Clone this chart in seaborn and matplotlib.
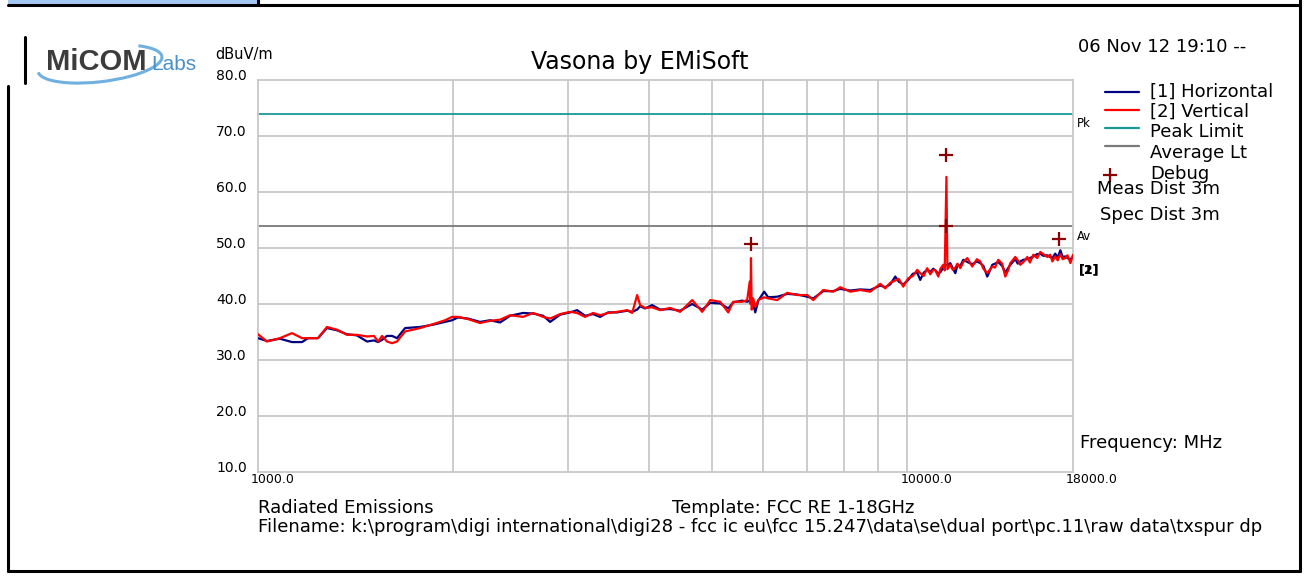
import numpy as np
import pandas as pd
import matplotlib
matplotlib.use("Agg")
import matplotlib.pyplot as plt
import seaborn as sns
from matplotlib.lines import Line2D
from matplotlib.patches import Rectangle, Arc
from matplotlib.transforms import ScaledTranslation

freq = [1000, 1032, 1081, 1128, 1169, 1194, 1237, 1277, 1324, 1371, 1420, 1472, 1509, 1531,
        1553, 1580, 1609, 1637, 1685, 1777, 1860, 1942, 1990, 2033, 2106, 2198, 2278, 2360,
        2445, 2560, 2653, 2749, 2818, 2920, 3025, 3101, 3190, 3282, 3365, 3462, 3574, 3704,
        3770, 3837, 3878, 3947, 4046, 4163, 4313, 4469, 4664, 4833, 4972, 5151, 5300, 5395,
        5569, 5668, 5720, 5735, 5745, 5760, 5790, 5833, 5895, 6021, 6107, 6305, 6533, 6769,
        7015, 7166, 7423, 7691, 7885, 8170, 8464, 8770, 9087, 9250, 9415, 9584, 9700, 9859,
        10035, 10200, 10361, 10471, 10600, 10734, 10850, 10966, 11050, 11163, 11250, 11363,
        11420, 11490, 11530, 11649, 11750, 11858, 11950, 12070, 12200, 12374, 12592, 12800,
        12954, 13100, 13282, 13521, 13650, 13809, 14000, 14157, 14300, 14411, 14669, 14800,
        14932, 15100, 15308, 15450, 15637, 15850, 16032, 16200, 16436, 16600, 16730, 16900,
        17050, 17211, 17350, 17520, 17650, 17834, 18000]

vert = [34.6, 33.3, 33.9, 34.8, 33.9, 33.9, 33.9, 35.9, 35.4, 34.5, 34.5, 34.2, 34.3, 33.3,
        34.3, 33.3, 33.0, 33.3, 35.1, 35.7, 36.4, 37.1, 37.7, 37.7, 37.3, 36.6, 37.0, 37.2,
        38.0, 37.7, 38.4, 37.7, 37.4, 38.2, 38.6, 38.4, 37.7, 38.4, 38.0, 38.4, 38.6, 38.9,
        38.4, 41.6, 39.8, 39.3, 39.4, 38.9, 39.3, 38.6, 40.7, 38.6, 40.7, 40.4, 38.5, 40.4,
        40.4, 40.7, 44.0, 40.0, 48.2, 39.0, 41.0, 39.5, 40.7, 41.2, 41.0, 40.7, 42.0, 41.6,
        41.6, 40.7, 42.5, 42.2, 43.0, 42.2, 42.5, 42.2, 43.6, 42.8, 43.8, 44.2, 44.5, 43.1,
        44.6, 45.0, 46.1, 45.5, 45.0, 46.4, 45.3, 46.1, 46.0, 44.9, 46.3, 47.0,
        46.0, 62.7, 46.2, 47.0, 46.1, 46.5, 47.2, 46.4, 47.5, 48.2, 46.7, 48.0,
        47.6, 46.3, 45.5, 46.7, 46.5, 47.9, 47.2, 44.9, 46.0, 47.3, 48.4, 47.8,
        47.0, 47.5, 48.4, 47.4, 48.8, 48.2, 49.3, 48.9, 48.4, 48.8, 47.6, 48.5,
        47.8, 48.9, 48.0, 48.2, 48.7, 47.3, 48.8]

horiz = [33.9, 33.4, 33.8, 33.2, 33.2, 33.9, 33.9, 35.7, 35.3, 34.6, 34.4, 33.3, 33.5, 33.2,
         33.6, 34.3, 34.3, 33.9, 35.7, 35.9, 36.3, 36.8, 37.1, 37.6, 37.4, 36.8, 37.1, 36.7,
         37.9, 38.4, 38.3, 37.9, 36.8, 38.1, 38.5, 38.9, 37.9, 38.2, 37.7, 38.5, 38.5, 38.8,
         38.6, 39.0, 39.6, 39.2, 39.8, 39.0, 39.1, 38.8, 40.0, 39.0, 40.2, 40.1, 39.2, 40.3,
         40.6, 40.4, 40.6, 40.5, 40.2, 39.8, 40.0, 38.5, 40.6, 42.2, 41.2, 41.3, 41.8, 41.7,
         41.3, 41.0, 42.3, 42.3, 42.7, 42.4, 42.6, 42.5, 43.3, 43.0, 43.5, 44.9, 44.0, 43.5,
         44.3, 45.4, 45.6, 44.3, 45.6, 46.1, 45.7, 46.3, 46.0, 45.4, 45.7, 46.5,
         46.8, 47.0, 46.9, 47.3, 46.4, 45.5, 47.0, 46.8, 47.9, 47.5, 47.1, 47.6,
         47.3, 46.8, 44.9, 47.0, 47.2, 47.5, 46.8, 45.6, 46.4, 47.0, 48.0, 47.2,
         47.6, 47.9, 48.0, 48.2, 48.5, 48.9, 49.0, 48.6, 48.7, 48.4, 48.2, 49.0,
         48.3, 49.6, 48.4, 48.5, 48.2, 48.0, 48.4]

limit_freq = [1000, 18000]
peak_limit = [74.0, 74.0]
average_limit = [54.0, 54.0]

debug_freq = [5745, 11490, 11490, 17100]
debug_level = [50.7, 66.6, 54.0, 51.6]

yticks = [10, 20, 30, 40, 50, 60, 70, 80]
ytick_labels = ["10.0", "20.0", "30.0", "40.0", "50.0", "60.0", "70.0", "80.0"]
xticks = [1000, 10000, 18000]
xtick_labels = ["1000.0", "10000.0", "18000.0"]
xgrid = [2000, 3000, 4000, 5000, 6000, 7000, 8000, 9000, 10000]

NAVY = "#000080"
RED = "#ff0000"
TEAL = "#1a9999"
GRAYLT = "#7a7a7a"
DEBUG = "#8b0000"
GRID = "#c8c8c8"

sns.set_style("white")
plt.rcParams['font.family'] = ['DejaVu Sans']
plt.rcParams['text.color'] = 'black'
plt.rcParams['xtick.color'] = 'black'
plt.rcParams['ytick.color'] = 'black'

W, H = 1309, 579
fig = plt.figure(figsize=(W / 100, H / 100), dpi=100)
ax = fig.add_axes([258 / W, 1 - 472 / H, (1073 - 258) / W, (472 - 80) / H])


def px(x, y):
    return x / W, 1 - y / H


df = pd.DataFrame({"freq": freq, "Horizontal": horiz, "Vertical": vert})
lim = pd.DataFrame({"freq": limit_freq, "peak": peak_limit, "avg": average_limit})
dbg = pd.DataFrame({"freq": debug_freq, "level": debug_level})

for f in xgrid:
    ax.axvline(f, color=GRID, lw=1.3, zorder=0)
for v in yticks[1:-1]:
    ax.axhline(v, color=GRID, lw=1.3, zorder=0)

sns.lineplot(data=lim, x="freq", y="peak", color=TEAL, lw=1.3, ax=ax, zorder=2)
sns.lineplot(data=lim, x="freq", y="avg", color=GRAYLT, lw=1.3, ax=ax, zorder=2)
sns.lineplot(data=df, x="freq", y="Horizontal", color=NAVY, lw=1.6, ax=ax,
             estimator=None, sort=False, zorder=3)
sns.lineplot(data=df, x="freq", y="Vertical", color=RED, lw=1.6, ax=ax,
             estimator=None, sort=False, zorder=4)
sns.scatterplot(data=dbg, x="freq", y="level", marker="+", s=90, color=DEBUG,
                linewidth=1.6, ax=ax, zorder=5)

ax.set_xscale("log")
ax.set_xlim(1000, 18000)
ax.set_ylim(10, 80)
ax.set_xlabel("")
ax.set_ylabel("")
ax.minorticks_off()
ax.set_xticks(xticks)
ax.set_xticklabels(xtick_labels, fontsize=9, ha="left")
ax.set_yticks(yticks)
ax.set_yticklabels(ytick_labels, fontsize=10)
ax.tick_params(axis="both", length=0)
ax.tick_params(axis="x", pad=1)
ax.tick_params(axis="y", pad=8)
for lab in ax.get_yticklabels():
    lab.set_transform(lab.get_transform() + ScaledTranslation(0, 0.05, fig.dpi_scale_trans))
for lab in ax.get_xticklabels():
    lab.set_transform(lab.get_transform() + ScaledTranslation(-0.07, 0, fig.dpi_scale_trans))
for s in ax.spines.values():
    s.set_color(GRID)
    s.set_linewidth(1.3)

# page texts
TS = 13
fig.text(*px(640, 62), "Vasona by EMiSoft", fontsize=17, ha="center", va="center")
fig.text(*px(244, 55), "dBuV/m", fontsize=10.5, ha="center", va="center")
fig.text(*px(1078, 47), "06 Nov 12 19:10 --", fontsize=TS, ha="left", va="center")

legend_items = [("[1] Horizontal", NAVY, 92, 92), ("[2] Vertical", RED, 110, 112),
                ("Peak Limit", TEAL, 128, 132), ("Average Lt", GRAYLT, 146, 153)]
for label, c, ly, ty in legend_items:
    fig.add_artist(Line2D([1105 / W, 1139 / W], [1 - ly / H, 1 - ly / H], color=c, lw=1.6,
                          transform=fig.transFigure))
    fig.text(*px(1150, ty), label, fontsize=TS, ha="left", va="center")
fig.add_artist(Line2D([1110 / W], [1 - 175 / H], marker="+", markersize=10, mew=1.6,
                      color=DEBUG, transform=fig.transFigure))
fig.text(*px(1150, 174), "Debug", fontsize=TS, ha="left", va="center")
fig.text(*px(1097, 189), "Meas Dist 3m", fontsize=TS, ha="left", va="center")
fig.text(*px(1100, 215), "Spec Dist 3m", fontsize=TS, ha="left", va="center")
fig.text(*px(1077, 124), "Pk", fontsize=8.5, ha="left", va="center")
fig.text(*px(1077, 236), "Av", fontsize=8.5, ha="left", va="center")
fig.text(*px(1079, 270), "[1]", fontsize=9, ha="left", va="center", fontweight="bold")
fig.text(*px(1079, 270), "[2]", fontsize=9, ha="left", va="center", fontweight="bold")
fig.text(*px(1080, 443), "Frequency: MHz", fontsize=TS, ha="left", va="center")
fig.text(*px(258, 508), "Radiated Emissions", fontsize=TS, ha="left", va="center")
fig.text(*px(672, 508), "Template: FCC RE 1-18GHz", fontsize=TS, ha="left", va="center")
fig.text(*px(258, 527),
         "Filename: k:\\program\\digi international\\digi28 - fcc ic eu\\fcc 15.247\\data\\se"
         "\\dual port\\pc.11\\raw data\\txspur dp", fontsize=TS, ha="left", va="center")

# logo
fig.patches.append(Arc(px(100, 64), 130 / W, 34 / H, angle=22, theta1=175, theta2=385,
                       color="#6fb0e0", lw=2.2, transform=fig.transFigure))
fig.text(*px(46, 62), "MiCOM", fontsize=21, fontweight="bold", color="#3c3c3c",
         ha="left", va="center", family="Liberation Sans")
fig.text(*px(151, 64), "Labs", fontsize=15, color="#4a90c8", ha="left", va="center",
         family="Liberation Sans")

# frame of the page
fig.patches.append(Rectangle(px(8, 5), 250 / W, 5 / H, facecolor="#a4c8f4",
                             edgecolor="none", transform=fig.transFigure))
for (x0, y0, x1, y1) in [(8, 5, 1300, 5), (258, 0, 258, 5), (1300, 0, 1300, 571),
                         (8, 571, 1300, 571), (8, 86, 8, 571), (25, 37, 25, 83)]:
    fig.add_artist(Line2D([x0 / W, x1 / W], [1 - y0 / H, 1 - y1 / H], color="black",
                          lw=2.2, transform=fig.transFigure))

fig.savefig("out.png", dpi=100)
